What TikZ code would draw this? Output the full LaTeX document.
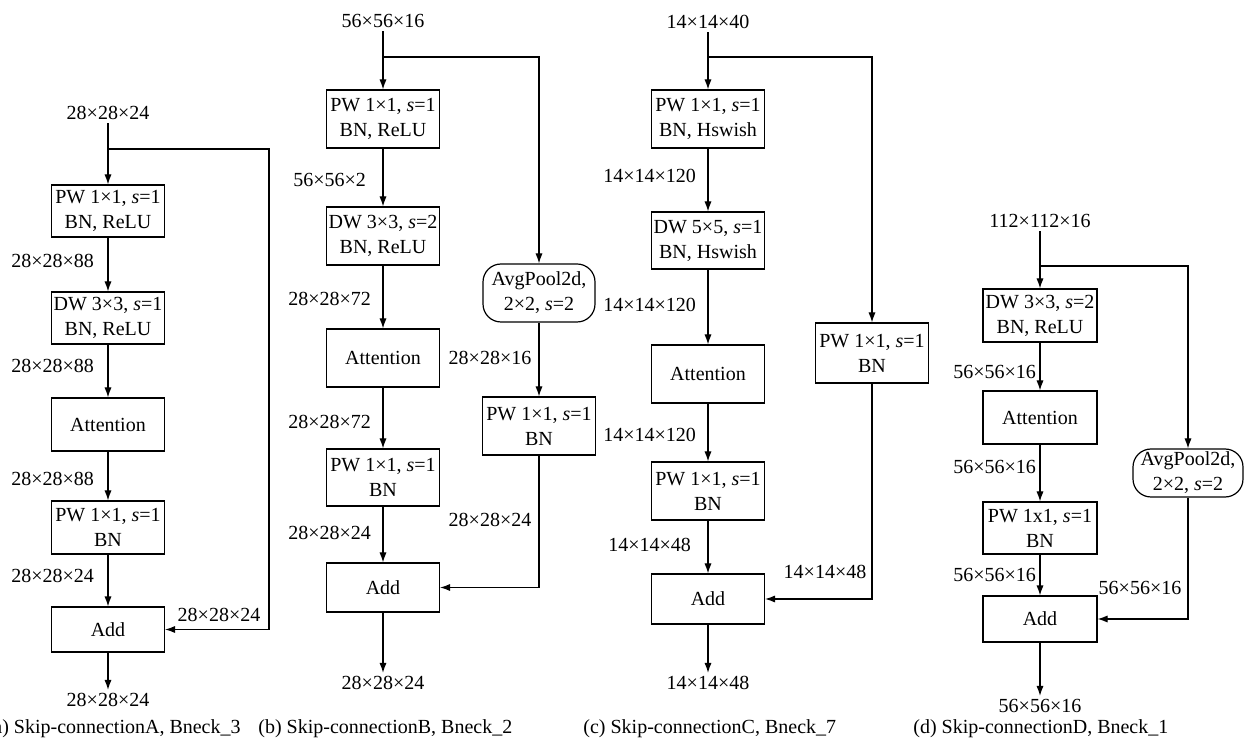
\documentclass[tikz,border=0pt]{standalone}
\usepackage{fontspec}
\setmainfont{Liberation Serif}
\usetikzlibrary{arrows.meta}

\begin{document}
\begin{tikzpicture}[x=0.5pt,y=-0.5pt,
  font=\fontsize{10}{12.5}\selectfont,
  >={Latex[length=5pt,width=3.6pt]},
  blk/.style={draw, line width=0.6pt, minimum width=56.5pt, minimum height=26pt,
    align=center, inner sep=1pt},
  pool/.style={blk, rounded corners=9pt},
  dimlbl/.style={inner sep=1.5pt},
  conn/.style={->, line width=0.6pt},
  subcap/.style={inner sep=0pt}]
  \useasboundingbox (0,0) rectangle (1247,742);

  % (a) Skip-connectionA
  \node[dimlbl] (a-in) at (108,113) {28×28×24};
  \coordinate (a-br) at (108,149);
  \coordinate (a-cn) at (269,149);
  \node[blk] (a-pw1) at (108,211) {PW 1×1, \textit{s}=1\\BN, ReLU};
  \node[blk] (a-dw) at (108,318) {DW 3×3, \textit{s}=1\\BN, ReLU};
  \node[blk, minimum height=26.5pt] (a-att) at (108,424.5) {Attention};
  \node[blk, minimum height=26.5pt] (a-pw2) at (108,527.5) {PW 1×1, \textit{s}=1\\BN};
  \node[blk, minimum height=22.5pt] (a-add) at (108,629.5) {Add};
  \node[dimlbl] (a-out) at (108,700) {28×28×24};
  \node[dimlbl, anchor=west] (a-l1) at (8,261) {28×28×88};
  \node[dimlbl, anchor=west] (a-l2) at (8,366) {28×28×88};
  \node[dimlbl, anchor=west] (a-l3) at (8,479) {28×28×88};
  \node[dimlbl, anchor=west] (a-l4) at (8,576) {28×28×24};
  \node[dimlbl] (a-l5) at (219,615) {28×28×24};
  \draw[conn] (a-in) -- (a-pw1);
  \draw[conn] (a-pw1) -- (a-dw);
  \draw[conn] (a-dw) -- (a-att);
  \draw[conn] (a-att) -- (a-pw2);
  \draw[conn] (a-pw2) -- (a-add);
  \draw[conn] (a-add) -- (a-out);
  \draw[conn] (a-br) -- (a-cn) |- (a-add);
  \node[subcap, anchor=east] (a-cap) at (241,729) {(a) Skip-connectionA, Bneck\_3};

  % (b) Skip-connectionB
  \node[dimlbl] (b-in) at (383,21) {56×56×16};
  \coordinate (b-br) at (383,57);
  \coordinate (b-cn) at (539,57);
  \node[blk, minimum height=29pt] (b-pw1) at (383,119) {PW 1×1, \textit{s}=1\\BN, ReLU};
  \node[blk, minimum height=29pt] (b-dw) at (383,236) {DW 3×3, \textit{s}=2\\BN, ReLU};
  \node[blk, minimum height=29pt] (b-att) at (383,358) {Attention};
  \node[blk, minimum height=28.5pt] (b-pw2) at (383,477.5) {PW 1×1, \textit{s}=1\\BN};
  \node[blk, minimum height=24.5pt] (b-add) at (383,587.5) {Add};
  \node[dimlbl] (b-out) at (383,683) {28×28×24};
  \node[pool, minimum width=56pt, minimum height=29pt] (b-avg) at (539,293) {AvgPool2d,\\2×2, \textit{s}=2};
  \node[blk, minimum height=29pt] (b-pwr) at (539,426) {PW 1×1, \textit{s}=1\\BN};
  \node[dimlbl, anchor=west] (b-l1) at (290,180) {56×56×2};
  \node[dimlbl, anchor=west] (b-l2) at (285,299) {28×28×72};
  \node[dimlbl, anchor=west] (b-l3) at (285,422) {28×28×72};
  \node[dimlbl, anchor=west] (b-l4) at (285,533) {28×28×24};
  \node[dimlbl] (b-l5) at (490,358) {28×28×16};
  \node[dimlbl] (b-l6) at (490,520) {28×28×24};
  \draw[conn] (b-in) -- (b-pw1);
  \draw[conn] (b-pw1) -- (b-dw);
  \draw[conn] (b-dw) -- (b-att);
  \draw[conn] (b-att) -- (b-pw2);
  \draw[conn] (b-pw2) -- (b-add);
  \draw[conn] (b-add) -- (b-out);
  \draw[conn] (b-br) -- (b-cn) -- (b-avg);
  \draw[conn] (b-avg) -- (b-pwr);
  \draw[conn] (b-pwr) |- (b-add);
  \node[subcap, anchor=west] (b-cap) at (258,729) {(b) Skip-connectionB, Bneck\_2};

  % (c) Skip-connectionC
  \node[dimlbl] (c-in) at (708,22) {14×14×40};
  \coordinate (c-br) at (708,57);
  \coordinate (c-cn) at (872,57);
  \node[blk, minimum height=29pt] (c-pw1) at (708,119) {PW 1×1, \textit{s}=1\\BN, Hswish};
  \node[blk, minimum height=28.5pt] (c-dw) at (708,240.5) {DW 5×5, \textit{s}=1\\BN, Hswish};
  \node[blk, minimum height=29pt] (c-att) at (708,374) {Attention};
  \node[blk, minimum height=29pt] (c-pw2) at (708,491) {PW 1×1, \textit{s}=1\\BN};
  \node[blk, minimum height=25pt] (c-add) at (708,599) {Add};
  \node[dimlbl] (c-out) at (708,683) {14×14×48};
  \node[blk, minimum height=30pt] (c-pwr) at (872,353) {PW 1×1, \textit{s}=1\\BN};
  \node[dimlbl, anchor=west] (c-l1) at (600,176) {14×14×120};
  \node[dimlbl, anchor=west] (c-l2) at (600,305) {14×14×120};
  \node[dimlbl, anchor=west] (c-l3) at (600,435) {14×14×120};
  \node[dimlbl, anchor=west] (c-l4) at (605,545) {14×14×48};
  \node[dimlbl] (c-l5) at (825,572) {14×14×48};
  \draw[conn] (c-in) -- (c-pw1);
  \draw[conn] (c-pw1) -- (c-dw);
  \draw[conn] (c-dw) -- (c-att);
  \draw[conn] (c-att) -- (c-pw2);
  \draw[conn] (c-pw2) -- (c-add);
  \draw[conn] (c-add) -- (c-out);
  \draw[conn] (c-br) -- (c-cn) -- (c-pwr);
  \draw[conn] (c-pwr) |- (c-add);
  \node[subcap, anchor=west] (c-cap) at (583,729) {(c) Skip-connectionC, Bneck\_7};

  % (d) Skip-connectionD
  \node[dimlbl] (d-in) at (1040,221) {112×112×16};
  \coordinate (d-br) at (1040,266);
  \coordinate (d-cn) at (1188,266);
  \node[blk, minimum width=57pt, minimum height=26.5pt] (d-dw) at (1040,315.5) {DW 3×3, \textit{s}=2\\BN, ReLU};
  \node[blk, minimum width=57pt, minimum height=26.5pt] (d-att) at (1040,417.5) {Attention};
  \node[blk, minimum width=57pt, minimum height=26pt] (d-pw) at (1040,528) {PW 1x1, \textit{s}=1\\BN};
  \node[blk, minimum width=57pt, minimum height=23pt] (d-add) at (1040,619) {Add};
  \node[dimlbl] (d-out) at (1040,706) {56×56×16};
  \node[pool, minimum width=55pt, minimum height=24pt] (d-avg) at (1188,473) {AvgPool2d,\\2×2, \textit{s}=2};
  \node[dimlbl, anchor=west] (d-l1) at (950,372) {56×56×16};
  \node[dimlbl, anchor=west] (d-l2) at (950,467) {56×56×16};
  \node[dimlbl, anchor=west] (d-l3) at (950,575) {56×56×16};
  \node[dimlbl] (d-l4) at (1140,588) {56×56×16};
  \draw[conn] (d-in) -- (d-dw);
  \draw[conn] (d-dw) -- (d-att);
  \draw[conn] (d-att) -- (d-pw);
  \draw[conn] (d-pw) -- (d-add);
  \draw[conn] (d-add) -- (d-out);
  \draw[conn] (d-br) -- (d-cn) -- (d-avg);
  \draw[conn] (d-avg) |- (d-add);
  \node[subcap, anchor=west] (d-cap) at (913,729) {(d) Skip-connectionD, Bneck\_1};
\end{tikzpicture}
\end{document}
